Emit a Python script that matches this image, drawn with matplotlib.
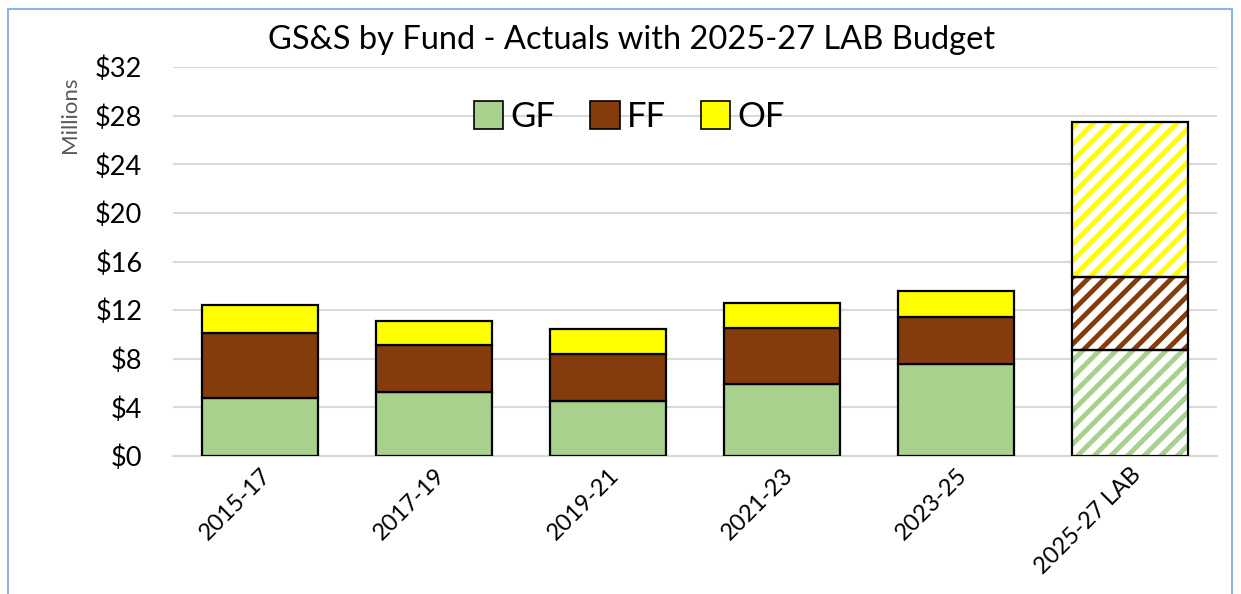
import matplotlib
matplotlib.use("Agg")
import matplotlib.pyplot as plt
from matplotlib.patches import Rectangle, Patch

periods = ["2015-17", "2017-19", "2019-21", "2021-23", "2023-25", "2025-27 LAB"]
gf = [4.75, 5.30, 4.50, 5.95, 7.60, 8.75]
ff = [5.40, 3.80, 3.90, 4.60, 3.80, 5.95]
of = [2.30, 2.00, 2.05, 2.05, 2.15, 12.75]

series = [("GF", gf, "#a9d18e"), ("FF", ff, "#843c0c"), ("OF", of, "#ffff00")]

plt.rcParams["font.family"] = ["Lato", "DejaVu Sans"]
plt.rcParams["hatch.linewidth"] = 3.5

fig = plt.figure(figsize=(12.41, 5.94), dpi=100)
ax = fig.add_axes([173 / 1241, 1 - 456 / 594, (1217 - 173) / 1241, (456 - 67) / 594])

x = list(range(len(periods)))
n_act = len(periods) - 1
width = 0.67
bottom = [0.0] * len(periods)
for name, vals, color in series:
    # actuals: solid fill
    ax.bar(x[:n_act], vals[:n_act], width, bottom=bottom[:n_act], color=color,
           edgecolor="black", linewidth=1.6, zorder=3)
    # budget: hatched stripes on white
    ax.bar(x[n_act:], vals[n_act:], width, bottom=bottom[n_act:], color="white",
           edgecolor=color, hatch="//", linewidth=0, zorder=3)
    ax.bar(x[n_act:], vals[n_act:], width, bottom=bottom[n_act:], fill=False,
           edgecolor="black", linewidth=1.6, zorder=4)
    bottom = [b + v for b, v in zip(bottom, vals)]

ax.set_xlim(-0.5, len(periods) - 0.5)
ax.set_ylim(0, 32)
ax.set_yticks(range(0, 33, 4))
ax.set_yticklabels([f"${v}" for v in range(0, 33, 4)], fontsize=19.5)
ax.set_xticks(x)
ax.set_xticklabels(periods, rotation=45, ha="right", rotation_mode="anchor", fontsize=17)
ax.tick_params(axis="y", length=0, pad=22)
ax.tick_params(axis="x", length=0, pad=6)
ax.grid(axis="y", color="#d9d9d9", linewidth=1.5, zorder=0)
ax.set_axisbelow(True)
for s in ["top", "right", "left"]:
    ax.spines[s].set_visible(False)
ax.spines["bottom"].set_color("#d9d9d9")
ax.spines["bottom"].set_linewidth(1.5)

ax.set_ylabel("Millions", fontsize=16, color="#595959")
ax.yaxis.set_label_coords(-0.089, 0.877)

handles = [Patch(facecolor=c, edgecolor="black", linewidth=1.2, label=n) for n, _, c in series]
ax.legend(handles=handles, loc="center", bbox_to_anchor=(0.437, 0.871), ncol=3,
          frameon=False, fontsize=25, handlelength=0.85, handleheight=0.85,
          handletextpad=0.2, columnspacing=1.0)

fig.text(632 / 1241, 1 - 40 / 594, "GS&S by Fund - Actuals with 2025-27 LAB Budget",
         ha="center", va="center", fontsize=23.5)

fig.patches.append(Rectangle((8 / 1241, -0.05), (1232 - 8) / 1241, 1.05 - 9 / 594,
                             transform=fig.transFigure, fill=False,
                             edgecolor="#8db4e2", linewidth=1.5))

fig.savefig("out.png", dpi=100)
